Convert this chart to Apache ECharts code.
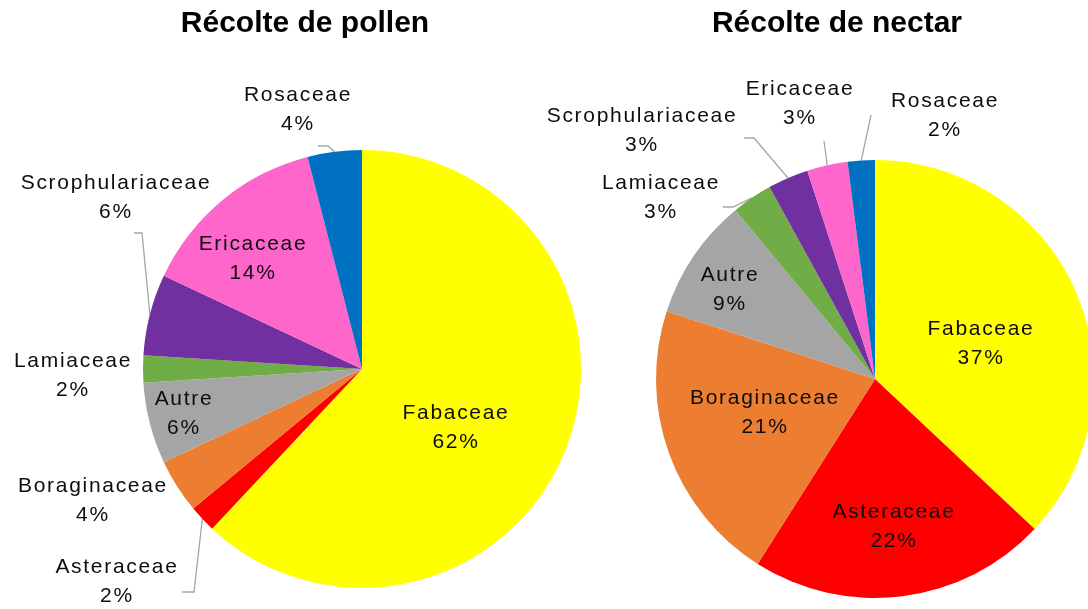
<!DOCTYPE html>
<html>
<head>
<meta charset="utf-8">
<script src="https://cdn.jsdelivr.net/npm/echarts@6/dist/echarts.min.js"></script>
<style>
  html, body { margin: 0; padding: 0; background: #fff; }
  #main { width: 1088px; height: 609px; }
</style>
</head>
<body>
<div id="main"></div>
<script>
const families = ['Fabaceae', 'Asteraceae', 'Boraginaceae', 'Autre', 'Lamiaceae', 'Scrophulariaceae', 'Ericaceae', 'Rosaceae'];
const pollenValues = [62, 2, 4, 6, 2, 6, 14, 4];
const nectarValues = [37, 22, 21, 9, 3, 3, 3, 2];

const colors = ['#FFFF00', '#FF0000', '#ED7D31', '#A5A5A5', '#70AD47', '#7030A0', '#FF66CC', '#0070C0'];

// label placement, excel style (centre of label + leader line elbow/end)
const pollenLabels = {
  Fabaceae: { pos: [456, 428] },
  Asteraceae: { pos: [117, 582], out: true, line: [[194, 592], [182, 592]] },
  Boraginaceae: { pos: [93, 501], out: true },
  Autre: { pos: [184, 414] },
  Lamiaceae: { pos: [73, 376], out: true },
  Scrophulariaceae: { pos: [116, 198], out: true, line: [[142, 233], [134, 233]] },
  Ericaceae: { pos: [253, 259] },
  Rosaceae: { pos: [298, 110], out: true, line: [[328, 146], [318, 146]] }
};
const nectarLabels = {
  Fabaceae: { pos: [981, 344] },
  Asteraceae: { pos: [894, 527] },
  Boraginaceae: { pos: [765, 413] },
  Autre: { pos: [730, 290] },
  Lamiaceae: { pos: [661, 198], out: true, line: [[733, 207], [723, 207]] },
  Scrophulariaceae: { pos: [642, 131], out: true, line: [[754, 138], [744, 138]] },
  Ericaceae: { pos: [800, 104], out: true, line: [[824, 141], [824, 141]] },
  Rosaceae: { pos: [945, 116], out: true, line: [[871, 115], [871, 115]] }
};

// the labels in the original are a bit spaced out, canvas can do it natively
['fillText', 'measureText'].forEach(fn => {
  const orig = CanvasRenderingContext2D.prototype[fn];
  CanvasRenderingContext2D.prototype[fn] = function(...args) {
    if ('letterSpacing' in this) this.letterSpacing = /bold/.test(this.font) ? '0px' : '1.7px';
    return orig.apply(this, args);
  };
});

function buildData(values, labels) {
  return families.map((name, i) => {
    const cfg = labels[name];
    return {
      name: name,
      value: values[i],
      label: { position: cfg.out ? 'outside' : 'inside' },
      labelLine: { show: !!cfg.line }
    };
  });
}

function layoutFor(labels) {
  return function(params) {
    const cfg = labels[families[params.dataIndex]];
    const res = { x: cfg.pos[0], y: cfg.pos[1], align: 'center', verticalAlign: 'middle' };
    if (cfg.line && params.labelLinePoints) {
      res.labelLinePoints = [params.labelLinePoints[0]].concat(cfg.line);
    }
    return res;
  };
}

function pieSeries(name, center, values, labels) {
  return {
    name: name,
    type: 'pie',
    center: center,
    radius: 219,
    startAngle: 90,
    clockwise: true,
    avoidLabelOverlap: false,
    silent: true,
    itemStyle: { borderWidth: 0 },
    label: {
      show: true,
      fontFamily: 'Liberation Sans',
      fontSize: 21,
      lineHeight: 29,
      color: '#0d0d0d',
      formatter: p => p.name + '\n' + Math.round(p.percent) + '%'
    },
    labelLine: {
      lineStyle: { color: '#A6A6A6', width: 1.3 }
    },
    labelLayout: layoutFor(labels),
    data: buildData(values, labels)
  };
}

const chart = echarts.init(document.getElementById('main'));
chart.setOption({
  animation: false,
  color: colors,
  graphic: [
    {
      type: 'text', x: 305, y: 24,
      style: { text: 'Récolte de pollen', font: 'bold 30px "Liberation Sans"', fill: '#000', textAlign: 'center', textVerticalAlign: 'middle' }
    },
    {
      type: 'text', x: 837, y: 24,
      style: { text: 'Récolte de nectar', font: 'bold 30px "Liberation Sans"', fill: '#000', textAlign: 'center', textVerticalAlign: 'middle' }
    }
  ],
  series: [
    pieSeries('Récolte de pollen', [362, 369], pollenValues, pollenLabels),
    pieSeries('Récolte de nectar', [875, 379], nectarValues, nectarLabels)
  ]
});
</script>
</body>
</html>
